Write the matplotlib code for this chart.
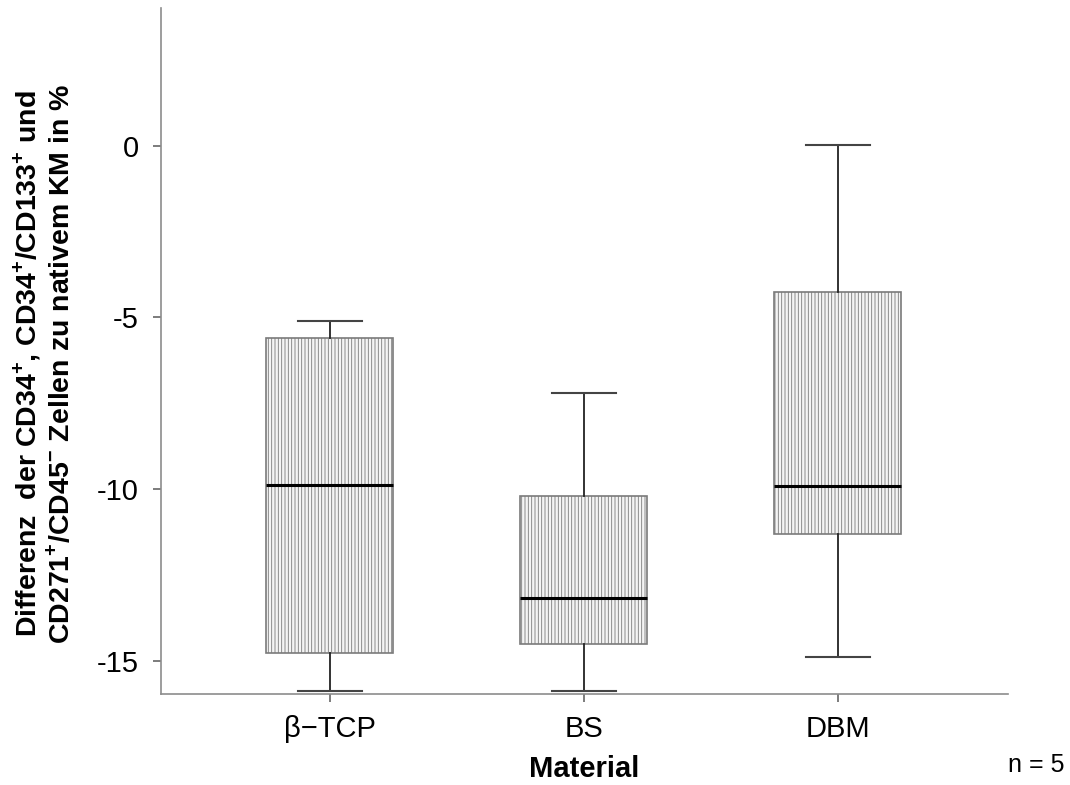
import numpy as np
import matplotlib
matplotlib.use("Agg")
import matplotlib.pyplot as plt

plt.rcParams['font.family'] = ['Liberation Sans', 'DejaVu Sans']
plt.rcParams['mathtext.fontset'] = 'custom'
plt.rcParams['mathtext.rm'] = 'Liberation Sans'
plt.rcParams['mathtext.bf'] = 'Liberation Sans:bold'
plt.rcParams['axes.unicode_minus'] = False
plt.rcParams['hatch.color'] = '#cfcfcf'
plt.rcParams['hatch.linewidth'] = 0.6

# box statistics (percent difference)
materials = ['\u03b2\u2212TCP', 'BS', 'DBM']
whisker_low = [-15.87, -15.87, -14.88]
q1 = [-14.77, -14.50, -11.31]
medians = [-9.88, -13.15, -9.91]
q3 = [-5.60, -10.18, -4.26]
whisker_high = [-5.11, -7.21, 0.03]
y_ticks = [0, -5, -10, -15]

stats = []
for i, name in enumerate(materials):
    stats.append({'label': name, 'whislo': whisker_low[i], 'q1': q1[i],
                  'med': medians[i], 'q3': q3[i], 'whishi': whisker_high[i],
                  'fliers': []})

fig = plt.figure(figsize=(10.7, 7.85), dpi=100)
ax = fig.add_axes([161 / 1070, 1 - 694 / 785, (1008 - 161) / 1070, (694 - 8) / 785])

bp = ax.bxp(stats, positions=[1, 2, 3], widths=0.5, patch_artist=True,
            showfliers=False,
            boxprops=dict(facecolor='#f4f4f4', edgecolor='#7a7a7a', linewidth=1.2),
            medianprops=dict(color='black', linewidth=2.2),
            whiskerprops=dict(color='#222222', linewidth=1.3),
            capprops=dict(color='#444444', linewidth=1.5),
            capwidths=0.25)
for patch in bp['boxes']:
    patch.set_hatch('|||||')

ax.set_xlim(0.335, 3.67)
ax.set_ylim(-15.95, 4.0)
ax.set_yticks(y_ticks)
ax.set_yticklabels([str(t) for t in y_ticks])

for side in ['top', 'right']:
    ax.spines[side].set_visible(False)
for side in ['left', 'bottom']:
    ax.spines[side].set_color('#8c8c8c')
    ax.spines[side].set_linewidth(1.2)

ax.tick_params(axis='y', length=6, width=1.2, color='#666666', labelsize=21, pad=10)
ax.tick_params(axis='x', length=6, width=1.2, color='#666666', labelsize=21, pad=9)

ax.set_xlabel('Material', fontsize=21, fontweight='bold', labelpad=9)

ylab = ('Differenz  der CD34$^{\\mathbf{+}}$, CD34$^{\\mathbf{+}}$/CD133$^{\\mathbf{+}}$ und\n'
        'CD271$^{\\mathbf{+}}$/CD45$^{\\mathbf{-}}$ Zellen zu nativem KM in %')
fig.text(43 / 1070, 1 - 364 / 785, ylab, rotation=90, ha='center', va='center',
         multialignment='center', fontsize=20.5, fontweight='bold', linespacing=1.16)

fig.text(1064 / 1070, 1 - 772 / 785, 'n = 5', ha='right', va='baseline', fontsize=18)

fig.savefig('out.png', dpi=100)
